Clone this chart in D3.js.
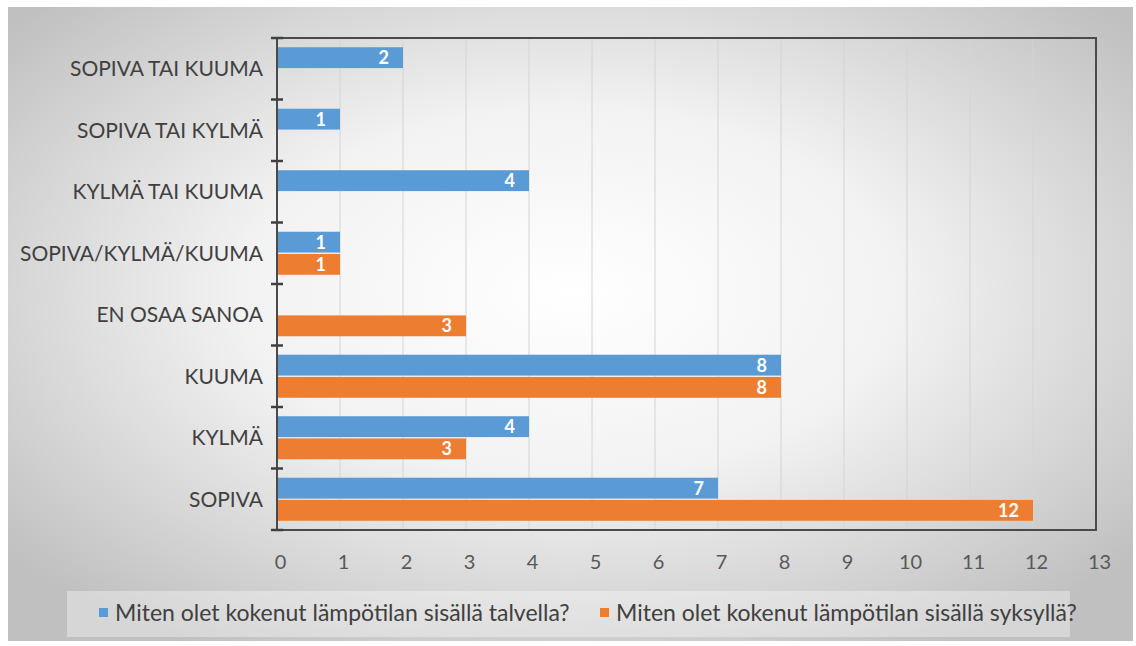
<!DOCTYPE html>
<html>
<head>
<meta charset="utf-8">
<script src="https://cdn.jsdelivr.net/npm/d3@7"></script>
<style>
  html, body { margin: 0; padding: 0; background: #ffffff; }
  svg { display: block; }
</style>
</head>
<body>
<svg id="chart" width="1136" height="646"></svg>
<script>
// Response categories, listed from top to bottom
const categories = [
  "SOPIVA TAI KUUMA",
  "SOPIVA TAI KYLMÄ",
  "KYLMÄ TAI KUUMA",
  "SOPIVA/KYLMÄ/KUUMA",
  "EN OSAA SANOA",
  "KUUMA",
  "KYLMÄ",
  "SOPIVA"
];
const seriesNames = [
  "Miten olet kokenut lämpötilan sisällä talvella?",
  "Miten olet kokenut lämpötilan sisällä syksyllä?"
];
const winterValues = [2, 1, 4, 1, null, 8, 4, 7];
const autumnValues = [null, null, null, 1, 3, 8, 3, 12];
const xTicks = [0, 1, 2, 3, 4, 5, 6, 7, 8, 9, 10, 11, 12, 13];

const colors = ["#5B9BD5", "#ED7D31"];
const font = "Lato, 'Open Sans', sans-serif";

const svg = d3.select("#chart");
const defs = svg.append("defs");

const bg = defs.append("radialGradient")
  .attr("id", "bgGrad")
  .attr("cx", "50%").attr("cy", "45%").attr("r", "65%");
bg.append("stop").attr("offset", "0%").attr("stop-color", "#ffffff");
bg.append("stop").attr("offset", "45%").attr("stop-color", "#f2f2f2");
bg.append("stop").attr("offset", "100%").attr("stop-color", "#c0c0c0");

// Chart area background
svg.append("rect")
  .attr("x", 8).attr("y", 7).attr("width", 1125).attr("height", 634)
  .attr("fill", "url(#bgGrad)");

const plot = { left: 277, top: 38, right: 1096, bottom: 530 };

const x = d3.scaleLinear().domain([0, 13]).range([plot.left, plot.right]);
const y = d3.scaleBand().domain(categories).range([plot.top, plot.bottom])
  .paddingInner(0.3).paddingOuter(0.15);
const ySub = d3.scaleBand().domain([0, 1]).range([0, y.bandwidth()]).paddingInner(0.06);

// Vertical gridlines
svg.append("g")
  .selectAll("line")
  .data(xTicks.slice(1))
  .join("line")
  .attr("x1", d => x(d)).attr("x2", d => x(d))
  .attr("y1", plot.top).attr("y2", plot.bottom)
  .attr("stroke", "#d4d4d4").attr("stroke-width", 1);

// Bars
const series = [winterValues, autumnValues];
series.forEach((vals, si) => {
  const rows = categories.map((c, i) => ({ c, v: vals[i] })).filter(d => d.v != null);
  const g = svg.append("g");
  g.selectAll("rect")
    .data(rows)
    .join("rect")
    .attr("x", x(0))
    .attr("y", d => y(d.c) + ySub(si))
    .attr("width", d => x(d.v) - x(0))
    .attr("height", ySub.bandwidth())
    .attr("fill", colors[si]);
  g.selectAll("text")
    .data(rows)
    .join("text")
    .attr("x", d => x(d.v) - 14)
    .attr("y", d => y(d.c) + ySub(si) + ySub.bandwidth() / 2)
    .attr("dy", "0.36em")
    .attr("text-anchor", "end")
    .attr("fill", "#ffffff")
    .attr("font-family", font)
    .attr("font-weight", "bold")
    .attr("font-size", 18)
    .text(d => d.v);
});

// Plot frame
svg.append("rect")
  .attr("x", plot.left).attr("y", plot.top)
  .attr("width", plot.right - plot.left).attr("height", plot.bottom - plot.top)
  .attr("fill", "none").attr("stroke", "#4a4a4a").attr("stroke-width", 2);

// Category axis with crossing tick marks at band boundaries
const yAxisG = svg.append("g");
const boundaries = categories.map(c => y(c) - y.step() * y.paddingInner() / 2);
boundaries.push(plot.bottom);
yAxisG.selectAll("line")
  .data(boundaries)
  .join("line")
  .attr("x1", plot.left - 6).attr("x2", plot.left + 6)
  .attr("y1", d => d).attr("y2", d => d)
  .attr("stroke", "#404040").attr("stroke-width", 2.5);

yAxisG.selectAll("text")
  .data(categories)
  .join("text")
  .attr("x", plot.left - 14)
  .attr("y", d => y(d) + y.bandwidth() / 2)
  .attr("dy", "0.36em")
  .attr("text-anchor", "end")
  .attr("fill", "#404040")
  .attr("font-family", font)
  .attr("font-size", 21)
  .text(d => d);

// Value axis labels
const xAxis = d3.axisBottom(x).tickValues(xTicks).tickSize(0).tickPadding(0);
const xAxisG = svg.append("g")
  .attr("transform", `translate(3,${plot.bottom + 32})`)
  .call(xAxis);
xAxisG.select(".domain").remove();
xAxisG.selectAll("text")
  .attr("dy", "0.36em")
  .attr("fill", "#595959")
  .attr("font-family", font)
  .attr("font-size", 20);

// Legend
svg.append("rect")
  .attr("x", 67).attr("y", 591).attr("width", 1003).attr("height", 46)
  .attr("fill", "#ffffff").attr("fill-opacity", 0.35);

const legendItems = [
  { name: seriesNames[0], color: colors[0], x: 99 },
  { name: seriesNames[1], color: colors[1], x: 600 }
];
const lg = svg.append("g").selectAll("g").data(legendItems).join("g")
  .attr("transform", d => `translate(${d.x},613)`);
lg.append("rect")
  .attr("x", 0).attr("y", -5).attr("width", 9).attr("height", 9)
  .attr("fill", d => d.color);
lg.append("text")
  .attr("x", 16).attr("y", 0).attr("dy", "0.36em")
  .attr("fill", "#404040")
  .attr("font-family", font)
  .attr("font-size", 23)
  .text(d => d.name);
</script>
</body>
</html>
